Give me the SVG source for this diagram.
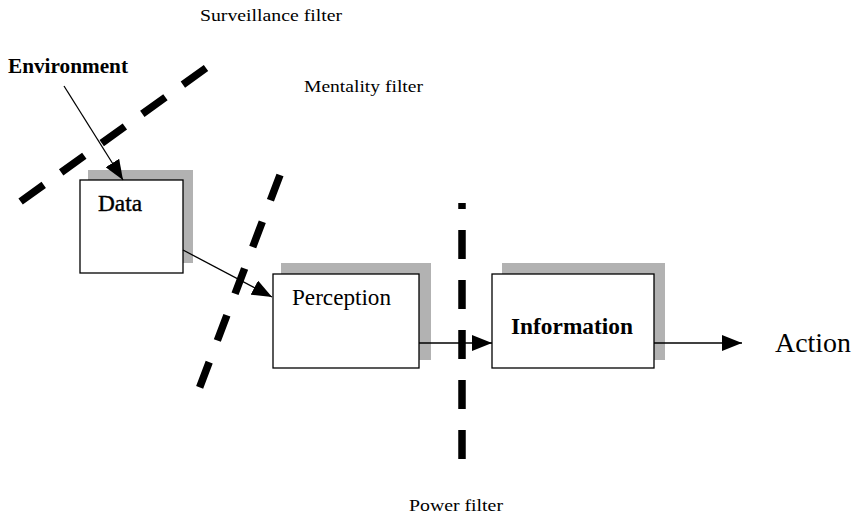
<svg xmlns="http://www.w3.org/2000/svg" width="855" height="516" viewBox="0 0 855 516">
<style>
.shadow{fill:#b2b2b2}
.box{fill:#fff;stroke:#000;stroke-width:1.3}
.lbl{font-family:"Liberation Serif","Times New Roman",serif;fill:#000}
.flt{font-family:"Liberation Serif","Times New Roman",serif;font-size:16px;fill:#000}
.conn{stroke:#000;stroke-width:1.3;fill:none;marker-end:url(#ah)}
.dash{stroke:#000;stroke-width:7.5;fill:none}
</style>
<defs>
<marker id="ah" markerUnits="userSpaceOnUse" markerWidth="20" markerHeight="16" refX="20" refY="8" orient="auto">
<path d="M0,0 L20,8 L0,16 z" fill="#000"/>
</marker>
</defs>
<rect width="855" height="516" fill="#fff"/>

<g id="filters">
<line class="dash" x1="206" y1="68" x2="20" y2="202" stroke-dasharray="28.5 21.5"/>
<line class="dash" x1="280" y1="175" x2="199" y2="389" stroke-dasharray="27 23"/>
<line class="dash" x1="462" y1="203" x2="462" y2="209" stroke-width="9"/>
<line class="dash" x1="462" y1="230" x2="462" y2="461" stroke-width="9" stroke-dasharray="29 21"/>
<text class="flt" x="200" y="21" textLength="142" lengthAdjust="spacingAndGlyphs">Surveillance filter</text>
<text class="flt" x="304" y="92" textLength="119" lengthAdjust="spacingAndGlyphs">Mentality filter</text>
<text class="flt" x="409" y="511" textLength="94" lengthAdjust="spacingAndGlyphs">Power filter</text>
</g>

<g id="environment">
<text class="lbl" x="8" y="73" font-size="21" font-weight="bold" textLength="120" lengthAdjust="spacingAndGlyphs">Environment</text>
</g>

<g id="data">
<rect class="shadow" x="88" y="170" width="105" height="93"/>
<rect class="box" x="80" y="180" width="103" height="93"/>
<text class="lbl" x="98" y="211" font-size="23" stroke="#000" stroke-width="0.4" textLength="44" lengthAdjust="spacingAndGlyphs">Data</text>
</g>

<g id="perception">
<rect class="shadow" x="281" y="263" width="150" height="97"/>
<rect class="box" x="273" y="274" width="146" height="94"/>
<text class="lbl" x="292" y="305" font-size="23" textLength="99" lengthAdjust="spacingAndGlyphs">Perception</text>
</g>

<g id="information">
<rect class="shadow" x="502" y="263" width="163" height="97"/>
<rect class="box" x="492" y="274" width="162" height="94"/>
<text class="lbl" x="511" y="334" font-size="23" font-weight="bold" textLength="122" lengthAdjust="spacingAndGlyphs">Information</text>
</g>

<g id="action">
<text class="lbl" x="775" y="352" font-size="28" textLength="76" lengthAdjust="spacingAndGlyphs">Action</text>
</g>

<g id="connectors">
<line class="conn" x1="64" y1="86" x2="123" y2="180"/>
<line class="conn" x1="183" y1="250" x2="272" y2="297"/>
<line class="conn" x1="419" y1="343" x2="492" y2="343"/>
<line class="conn" x1="654" y1="343" x2="742" y2="343"/>
</g>
</svg>
